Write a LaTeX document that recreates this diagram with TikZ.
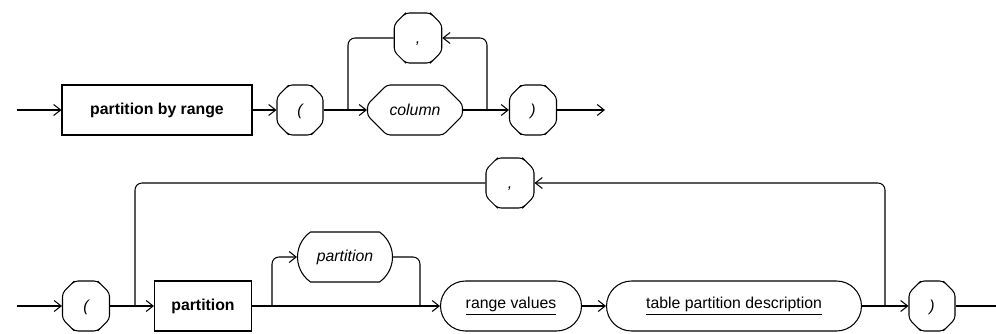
\documentclass[tikz,border=0pt]{standalone}
\usepackage{fontspec}
\setmainfont{Liberation Sans}
\usepackage{tikz}
\usetikzlibrary{arrows.meta}
\usetikzlibrary{shapes.misc}
\usetikzlibrary{positioning}

\begin{document}
\begin{tikzpicture}[
x=0.02cm, y=-0.02cm,
KeyWord/.style={draw, rectangle, line width=0.6pt, minimum height=1cm, inner sep=0pt, font=\fontsize{9}{11}\selectfont\bfseries},
Symbol/.style={draw, chamfered rectangle, chamfered rectangle xsep=0pt, chamfered rectangle ysep=0pt, chamfered rectangle sep=0.2cm, rounded corners=2pt, line width=0.6pt, minimum height=1cm, text height=1.6ex, text depth=0.4ex, inner sep=0pt, font=\fontsize{9}{11}\selectfont\itshape},
NonTerm/.style={draw, rounded rectangle, line width=0.6pt, minimum height=1cm, inner sep=0pt, font=\fontsize{9}{11}\selectfont},
Flow/.style={line width=0.6pt, -{Straight Barb[length=1.4mm, width=2.2mm]}},
Track/.style={line width=0.6pt, rounded corners=4pt}
]
\useasboundingbox (0,0) rectangle (996,334);

% first line: partition by range ( column {, column} )
\coordinate (s1) at (17,110);
\node[KeyWord, minimum width=3.8cm] (pbr) at (157,110) {partition by range};
\node[Symbol, minimum width=0.92cm] (lp1) at (300,110) {(};
\node[Symbol, minimum width=1.9cm] (col) at (415,110) {column};
\node[Symbol, minimum width=0.95cm] (com1) at (418,38) {,};
\node[Symbol, minimum width=0.94cm] (rp1) at (533,110) {)};
\coordinate (j1) at (348,110);
\coordinate (j2) at (487,110);
\coordinate (e1) at (605,110);

\draw[Flow] (s1)--(pbr.west);
\draw[Flow] (pbr.east)--(lp1.west);
\draw[Flow] (lp1.east)--(col.west);
\draw[Flow] (col.east)--(rp1.west);
\draw[Flow] (rp1.east)--(e1);

% repeat loop over the column list
\draw[Track, -{Straight Barb[length=1.4mm, width=2.2mm]}] (j2) |- (com1.east);
\draw[Track] (com1.west) -| (j1);

% second line: ( partition [partition] range values table partition description {, ...} )
\coordinate (s2) at (17,306);
\node[Symbol, minimum width=0.94cm] (lp2) at (86,306) {(};
\node[KeyWord, minimum width=1.94cm] (part) at (203,306) {partition};
\node[NonTerm, minimum width=1.9cm, rounded rectangle arc length=110] (popt) at (345,257) {\itshape partition};
\node[NonTerm, minimum width=2.82cm] (rv) at (511,306) {\underline{range values}};
\node[NonTerm, minimum width=5.1cm] (tpd) at (734,306) {\underline{table partition description}};
\node[Symbol, minimum width=0.92cm] (rp2) at (932,306) {)};
\node[Symbol, minimum width=0.96cm] (com2) at (510,183) {,};
\coordinate (j3) at (135,306);
\coordinate (j4) at (885,306);
\coordinate (o1) at (272,306);
\coordinate (o2) at (420,306);
\coordinate (e2) at (996,306);

\draw[Flow] (s2)--(lp2.west);
\draw[Flow] (lp2.east)--(part.west);
\draw[Flow] (part.east)--(rv.west);
\draw[Flow] (rv.east)--(tpd.west);
\draw[Flow] (tpd.east)--(rp2.west);
\draw[line width=0.6pt] (rp2.east)--(e2);

% optional partition name
\draw[Track, -{Straight Barb[length=1.4mm, width=2.2mm]}] (o1) |- (popt.west);
\draw[Track] (popt.east) -| (o2);

% repeat loop over the partition list
\draw[Track, -{Straight Barb[length=1.4mm, width=2.2mm]}] (j4) |- (com2.east);
\draw[Track] (com2.west) -| (j3);

\end{tikzpicture}
\end{document}
